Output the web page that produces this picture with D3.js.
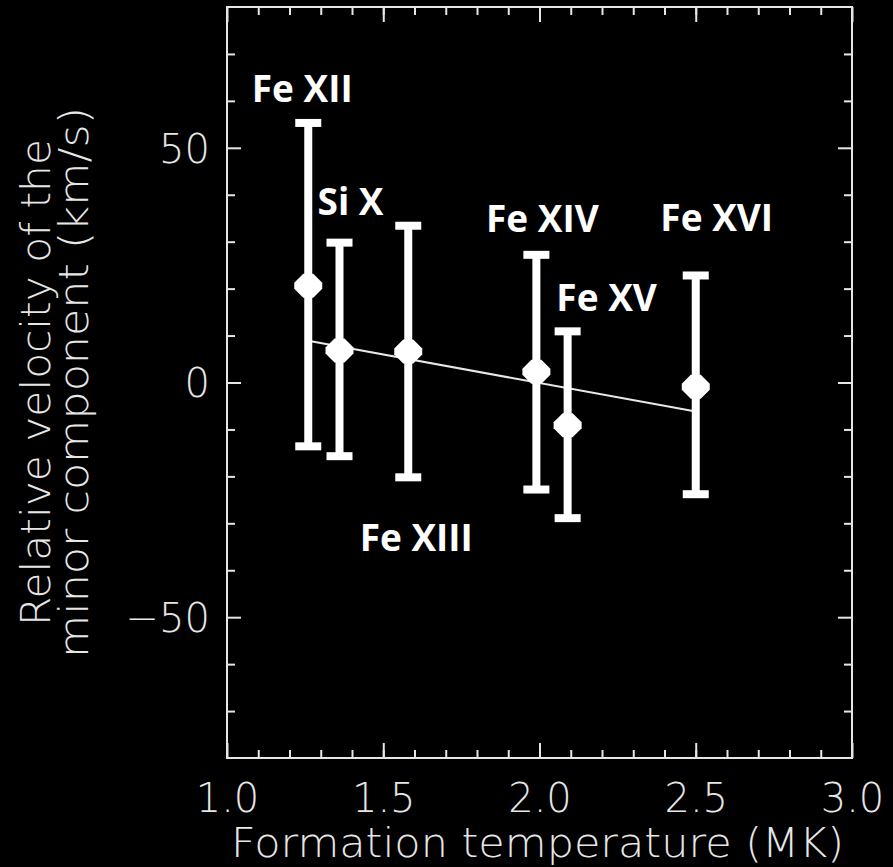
<!DOCTYPE html>
<html>
<head>
<meta charset="utf-8">
<script src="https://cdn.jsdelivr.net/npm/d3@7"></script>
<style>
  html, body { margin: 0; padding: 0; background: #000; }
  svg { display: block; }
</style>
</head>
<body>
<svg id="chart" width="893" height="867"></svg>
<script>
// Spectral lines, their formation temperature (MK) and relative velocity (km/s)
const ions        = ["Fe XII", "Si X", "Fe XIII", "Fe XIV", "Fe XV", "Fe XVI"];
const temperature = [1.26, 1.36, 1.58, 1.99, 2.09, 2.50];
const velocity    = [20.6, 6.8, 6.6, 2.3, -9.1, -0.9];
const errUpper    = [55.3, 29.8, 33.4, 27.2, 10.9, 22.8];
const errLower    = [-13.6, -15.7, -20.2, -22.8, -28.9, -23.8];

// Linear fit through the points
const fitT = [1.26, 2.50];
const fitV = [8.9, -6.2];

// Axis ranges and ticks
const xDomain = [1.0, 3.0];
const yDomain = [-80, 80];
const xMajorTicks = [1.0, 1.5, 2.0, 2.5, 3.0];
const xMinorTicks = d3.range(1.1, 3.0, 0.1).map(v => +v.toFixed(1));
const yMajorTicks = [-50, 0, 50];
const yMinorTicks = [-70, -60, -40, -30, -20, -10, 10, 20, 30, 40, 60, 70];

const xTitle = "Formation temperature (MK)";
const yTitle = ["Relative velocity of the", "minor component (km/s)"];

// ---- layout ----
const plot = { left: 227, top: 7, right: 852, bottom: 758 };
const axisColor = "#e6e6e6";
const axisFont = "'DejaVu Sans', sans-serif";
const labelFont = "'Open Sans', 'Noto Sans', sans-serif";

// Where each ion label sits relative to its error bar end (pixels):
// [dx, dy, which end: "top" or "bottom"]
const labelPlacement = [
  [-6, -21, "top"],
  [11, -28, "top"],
  [8, 74, "bottom"],
  [6, -23, "top"],
  [39, -20, "top"],
  [21, -44, "top"]
];

const svg = d3.select("#chart");
svg.append("rect").attr("width", 893).attr("height", 867).attr("fill", "#000");

const x = d3.scaleLinear().domain(xDomain).range([plot.left, plot.right]);
const y = d3.scaleLinear().domain(yDomain).range([plot.bottom, plot.top]);

const fmt = d => d3.format(".1f")(d);

function styleAxis(g) {
  g.select(".domain").remove();
  g.selectAll(".tick line").attr("stroke", axisColor).attr("stroke-width", 2);
  g.selectAll("text").attr("fill", axisColor)
    .style("font-family", axisFont).style("font-size", "40px").style("font-weight", 200);
}

// bottom axis (labels) + minor ticks
const gBottom = svg.append("g").attr("transform", `translate(0,${plot.bottom})`)
  .call(d3.axisBottom(x).tickValues(xMajorTicks).tickSize(-15).tickFormat(fmt));
styleAxis(gBottom);
gBottom.selectAll("text").attr("y", 54).attr("dy", 0);
svg.append("g").attr("transform", `translate(0,${plot.bottom})`)
  .call(d3.axisBottom(x).tickValues(xMinorTicks).tickSize(-8).tickFormat(""))
  .call(styleAxis);

// top axis (ticks only)
svg.append("g").attr("transform", `translate(0,${plot.top})`)
  .call(d3.axisTop(x).tickValues(xMajorTicks).tickSize(-15).tickFormat(""))
  .call(styleAxis);
svg.append("g").attr("transform", `translate(0,${plot.top})`)
  .call(d3.axisTop(x).tickValues(xMinorTicks).tickSize(-8).tickFormat(""))
  .call(styleAxis);

// left axis (labels) + minor ticks
const gLeft = svg.append("g").attr("transform", `translate(${plot.left},0)`)
  .call(d3.axisLeft(y).tickValues(yMajorTicks).tickSize(-14).tickPadding(17));
styleAxis(gLeft);
gLeft.selectAll("text").attr("dy", "0.36em");
svg.append("g").attr("transform", `translate(${plot.left},0)`)
  .call(d3.axisLeft(y).tickValues(yMinorTicks).tickSize(-8).tickFormat(""))
  .call(styleAxis);

// right axis (ticks only)
svg.append("g").attr("transform", `translate(${plot.right},0)`)
  .call(d3.axisRight(y).tickValues(yMajorTicks).tickSize(-14).tickFormat(""))
  .call(styleAxis);
svg.append("g").attr("transform", `translate(${plot.right},0)`)
  .call(d3.axisRight(y).tickValues(yMinorTicks).tickSize(-8).tickFormat(""))
  .call(styleAxis);

// plot frame
svg.append("rect")
  .attr("x", plot.left).attr("y", plot.top)
  .attr("width", plot.right - plot.left).attr("height", plot.bottom - plot.top)
  .attr("fill", "none").attr("stroke", axisColor).attr("stroke-width", 2);

// axis titles
svg.append("text")
  .attr("x", (plot.left + plot.right) / 2 - 2).attr("y", 857)
  .attr("text-anchor", "middle")
  .attr("textLength", 613).attr("lengthAdjust", "spacingAndGlyphs")
  .attr("fill", axisColor)
  .style("font-family", axisFont).style("font-size", "40px").style("font-weight", 200)
  .text(xTitle);

const yMid = (plot.top + plot.bottom) / 2;
const yTitleBaselines = [50, 88];
const yTitleLengths = [487, 551];
yTitle.forEach((t, i) => {
  svg.append("text")
    .attr("transform", `translate(${yTitleBaselines[i]},${yMid}) rotate(-90)`)
    .attr("text-anchor", "middle")
    .attr("textLength", yTitleLengths[i]).attr("lengthAdjust", "spacingAndGlyphs")
    .attr("fill", axisColor)
    .style("font-family", axisFont).style("font-size", "40px").style("font-weight", 200)
    .text(t);
});

// linear fit
svg.append("path")
  .datum(fitT.map((t, i) => [t, fitV[i]]))
  .attr("d", d3.line().x(d => x(d[0])).y(d => y(d[1])))
  .attr("fill", "none").attr("stroke", "#e8e8e8").attr("stroke-width", 2);

// error bars and markers
const pts = ions.map((name, i) => ({
  name, t: temperature[i], v: velocity[i], hi: errUpper[i], lo: errLower[i], place: labelPlacement[i]
}));

const g = svg.append("g").attr("fill", "#fff");
g.selectAll("rect.stem").data(pts).join("rect")
  .attr("class", "stem")
  .attr("x", d => x(d.t) - 4).attr("width", 8)
  .attr("y", d => y(d.hi)).attr("height", d => y(d.lo) - y(d.hi));
g.selectAll("rect.capHi").data(pts).join("rect")
  .attr("class", "capHi")
  .attr("x", d => x(d.t) - 13).attr("width", 26)
  .attr("y", d => y(d.hi) - 4).attr("height", 8);
g.selectAll("rect.capLo").data(pts).join("rect")
  .attr("class", "capLo")
  .attr("x", d => x(d.t) - 13).attr("width", 26)
  .attr("y", d => y(d.lo) - 4).attr("height", 8);

const marker = "M-5,-12L5,-12L14,-3L14,3L5,12L-5,12L-14,3L-14,-3Z";
g.selectAll("path.marker").data(pts).join("path")
  .attr("class", "marker")
  .attr("d", marker)
  .attr("transform", d => `translate(${x(d.t)},${y(d.v)})`);

// ion labels
svg.append("g").selectAll("text").data(pts).join("text")
  .attr("x", d => x(d.t) + d.place[0])
  .attr("y", d => (d.place[2] === "top" ? y(d.hi) : y(d.lo)) + d.place[1])
  .attr("text-anchor", "middle")
  .attr("fill", "#fff")
  .style("font-family", labelFont).style("font-size", "37px").style("font-weight", 700)
  .text(d => d.name);
</script>
</body>
</html>
